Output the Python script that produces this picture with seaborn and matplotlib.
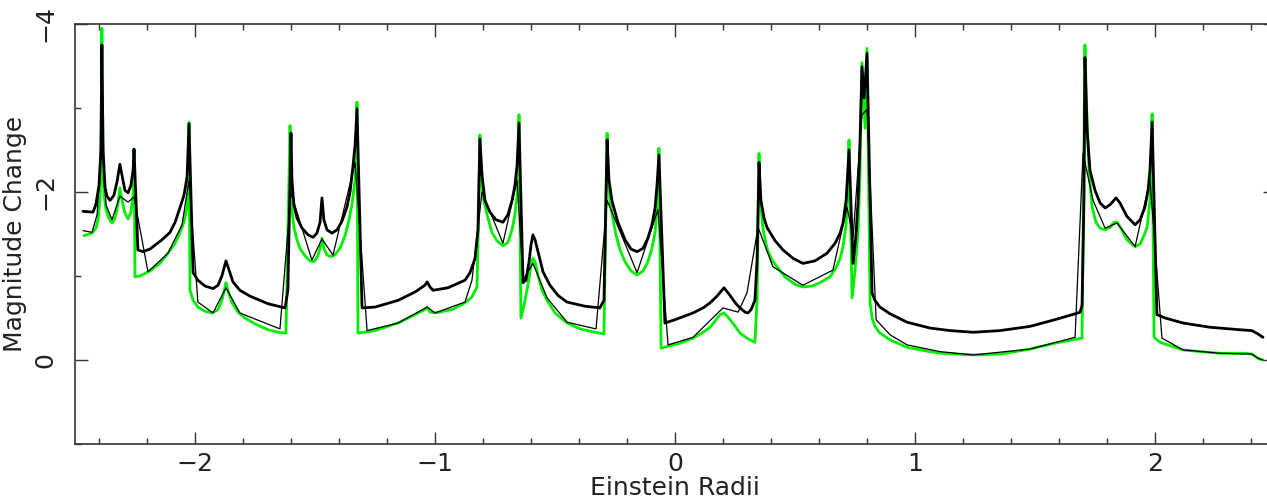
import numpy as np
import pandas as pd
import matplotlib
matplotlib.use("Agg")
import matplotlib.pyplot as plt
import seaborn as sns
from matplotlib.ticker import MultipleLocator, FixedLocator

# ---- data (x in Einstein radii, y in magnitudes) ----
green_x = [-2.463, -2.429, -2.413, -2.404, -2.396, -2.392, -2.388, -2.383, -2.379, -2.371,
           -2.358, -2.346, -2.333, -2.321, -2.313, -2.304, -2.292, -2.279, -2.267, -2.258,
           -2.254, -2.250, -2.229, -2.188, -2.146, -2.113, -2.083, -2.063, -2.046, -2.033,
           -2.029, -2.025, -2.021, -2.008, -1.988, -1.958, -1.929, -1.904, -1.888, -1.875,
           -1.871, -1.863, -1.846, -1.821, -1.792, -1.750, -1.696, -1.654, -1.621, -1.604,
           -1.600, -1.596, -1.588, -1.575, -1.563, -1.542, -1.521, -1.504, -1.488, -1.479,
           -1.471, -1.463, -1.450, -1.433, -1.417, -1.396, -1.375, -1.358, -1.346, -1.333,
           -1.325, -1.321, -1.250, -1.154, -1.083, -1.042, -1.033, -1.021, -1.000, -0.929,
           -0.875, -0.846, -0.825, -0.817, -0.813, -0.808, -0.800, -0.783, -0.763, -0.742,
           -0.717, -0.696, -0.679, -0.667, -0.658, -0.654, -0.650, -0.642, -0.629, -0.613,
           -0.600, -0.592, -0.583, -0.571, -0.554, -0.533, -0.500, -0.450, -0.396, -0.333,
           -0.296, -0.283, -0.279, -0.271, -0.263, -0.246, -0.229, -0.208, -0.183, -0.158,
           -0.133, -0.113, -0.096, -0.083, -0.075, -0.071, -0.067, -0.058, -0.021, 0.021,
           0.075, 0.117, 0.146, 0.171, 0.188, 0.204, 0.221, 0.246, 0.271, 0.300,
           0.333, 0.342, 0.350, 0.354, 0.367, 0.383, 0.404, 0.425, 0.458, 0.500,
           0.533, 0.571, 0.604, 0.646, 0.671, 0.688, 0.700, 0.713, 0.721, 0.725,
           0.738, 0.750, 0.763, 0.771, 0.779, 0.792, 0.800, 0.813, 0.821, 0.833,
           0.854, 0.896, 0.967, 1.042, 1.104, 1.242, 1.354, 1.479, 1.583, 1.696,
           1.708, 1.713, 1.717, 1.725, 1.738, 1.754, 1.771, 1.792, 1.813, 1.829,
           1.842, 1.858, 1.883, 1.917, 1.938, 1.954, 1.967, 1.979, 1.983, 1.988,
           1.996, 2.021, 2.063, 2.117, 2.188, 2.271, 2.375, 2.404, 2.429, 2.450]
green_y = [-1.48, -1.51, -1.57, -1.67, -1.90, -2.26, -3.95, -2.26, -1.96, -1.79,
           -1.68, -1.63, -1.69, -1.85, -2.05, -1.90, -1.75, -1.68, -1.76, -1.96,
           -2.51, -0.99, -1.00, -1.06, -1.15, -1.27, -1.39, -1.51, -1.64, -1.82,
           -2.02, -2.83, -0.83, -0.71, -0.63, -0.58, -0.56, -0.60, -0.71, -0.86,
           -0.92, -0.83, -0.68, -0.57, -0.50, -0.43, -0.36, -0.33, -0.32, -2.79,
           -2.14, -1.79, -1.58, -1.43, -1.33, -1.24, -1.18, -1.17, -1.24, -1.33,
           -1.45, -1.33, -1.25, -1.23, -1.25, -1.33, -1.48, -1.67, -1.85, -2.14,
           -3.07, -0.32, -0.35, -0.44, -0.54, -0.60, -0.63, -0.57, -0.56, -0.60,
           -0.68, -0.75, -0.87, -1.90, -2.68, -2.20, -1.94, -1.73, -1.52, -1.42,
           -1.36, -1.40, -1.55, -1.73, -1.96, -2.26, -2.92, -0.50, -0.65, -0.89,
           -1.13, -1.21, -1.17, -1.01, -0.83, -0.71, -0.56, -0.44, -0.37, -0.33,
           -0.31, -2.70, -2.26, -1.90, -1.75, -1.49, -1.31, -1.17, -1.06, -1.01,
           -1.06, -1.17, -1.33, -1.52, -1.79, -2.08, -2.52, -0.14, -0.17, -0.20,
           -0.26, -0.33, -0.39, -0.48, -0.54, -0.56, -0.51, -0.42, -0.32, -0.26,
           -0.21, -0.71, -2.46, -1.96, -1.55, -1.33, -1.19, -1.11, -0.99, -0.90,
           -0.87, -0.88, -0.92, -0.99, -1.10, -1.21, -1.35, -1.61, -2.02, -2.62,
           -0.74, -1.07, -1.55, -2.26, -3.54, -2.76, -3.71, -0.68, -0.50, -0.40,
           -0.32, -0.24, -0.15, -0.11, -0.08, -0.06, -0.07, -0.13, -0.20, -0.26,
           -3.75, -3.21, -2.86, -2.26, -1.82, -1.64, -1.57, -1.55, -1.58, -1.64,
           -1.64, -1.57, -1.43, -1.35, -1.38, -1.48, -1.58, -1.90, -2.26, -2.93,
           -0.27, -0.21, -0.17, -0.12, -0.10, -0.08, -0.08, -0.07, -0.02, 0.00]

thick_x = [-2.467, -2.425, -2.413, -2.400, -2.392, -2.388, -2.383, -2.375, -2.367, -2.354,
           -2.338, -2.325, -2.313, -2.304, -2.292, -2.279, -2.267, -2.258, -2.254, -2.238,
           -2.217, -2.188, -2.138, -2.104, -2.083, -2.063, -2.046, -2.033, -2.025, -2.008,
           -1.988, -1.958, -1.925, -1.904, -1.888, -1.871, -1.858, -1.842, -1.813, -1.771,
           -1.696, -1.625, -1.613, -1.600, -1.596, -1.588, -1.575, -1.554, -1.529, -1.508,
           -1.492, -1.479, -1.471, -1.463, -1.450, -1.429, -1.408, -1.388, -1.367, -1.354,
           -1.342, -1.333, -1.325, -1.304, -1.250, -1.154, -1.083, -1.042, -1.033, -1.021,
           -1.008, -0.946, -0.875, -0.854, -0.833, -0.821, -0.813, -0.804, -0.792, -0.771,
           -0.746, -0.717, -0.696, -0.679, -0.667, -0.658, -0.650, -0.633, -0.621, -0.608,
           -0.600, -0.592, -0.583, -0.571, -0.550, -0.521, -0.488, -0.450, -0.375, -0.313,
           -0.296, -0.283, -0.275, -0.263, -0.238, -0.208, -0.183, -0.158, -0.133, -0.113,
           -0.096, -0.083, -0.075, -0.067, -0.042, 0.000, 0.075, 0.117, 0.146, 0.175,
           0.204, 0.229, 0.254, 0.271, 0.292, 0.304, 0.317, 0.333, 0.342, 0.350,
           0.358, 0.371, 0.383, 0.417, 0.450, 0.492, 0.533, 0.583, 0.633, 0.667,
           0.688, 0.700, 0.713, 0.725, 0.742, 0.754, 0.763, 0.771, 0.779, 0.788,
           0.800, 0.821, 0.833, 0.854, 0.896, 0.967, 1.063, 1.146, 1.242, 1.354,
           1.479, 1.583, 1.667, 1.688, 1.696, 1.704, 1.708, 1.717, 1.729, 1.750,
           1.771, 1.792, 1.813, 1.838, 1.854, 1.883, 1.917, 1.938, 1.958, 1.971,
           1.979, 1.988, 2.008, 2.042, 2.117, 2.229, 2.354, 2.404, 2.429, 2.450]
thick_y = [-1.77, -1.76, -1.85, -2.08, -2.50, -3.75, -2.50, -2.06, -1.95, -1.90,
           -1.96, -2.12, -2.33, -2.20, -2.02, -1.99, -2.08, -2.26, -2.51, -1.31,
           -1.29, -1.32, -1.43, -1.52, -1.64, -1.81, -1.96, -2.18, -2.81, -1.04,
           -0.95, -0.88, -0.85, -0.89, -1.00, -1.18, -1.07, -0.93, -0.83, -0.76,
           -0.67, -0.62, -0.83, -2.70, -2.14, -1.85, -1.69, -1.57, -1.49, -1.46,
           -1.51, -1.64, -1.93, -1.67, -1.55, -1.51, -1.55, -1.65, -1.82, -2.00,
           -2.30, -2.56, -2.99, -0.62, -0.63, -0.71, -0.81, -0.89, -0.93, -0.87,
           -0.83, -0.86, -0.95, -1.04, -1.21, -1.55, -2.63, -2.20, -1.90, -1.76,
           -1.67, -1.64, -1.73, -1.90, -2.08, -2.32, -2.82, -0.92, -0.95, -1.17,
           -1.37, -1.49, -1.43, -1.29, -1.05, -0.89, -0.77, -0.69, -0.64, -0.62,
           -0.71, -2.62, -2.14, -1.90, -1.64, -1.43, -1.32, -1.29, -1.33, -1.45,
           -1.61, -1.81, -2.08, -2.44, -0.44, -0.48, -0.56, -0.62, -0.68, -0.76,
           -0.86, -0.77, -0.67, -0.62, -0.57, -0.56, -0.60, -0.71, -1.19, -2.35,
           -1.90, -1.69, -1.58, -1.42, -1.31, -1.21, -1.15, -1.18, -1.27, -1.39,
           -1.51, -1.63, -1.90, -2.50, -1.15, -1.49, -1.90, -2.62, -3.49, -3.12,
           -3.65, -0.80, -0.71, -0.63, -0.55, -0.45, -0.38, -0.35, -0.33, -0.35,
           -0.40, -0.48, -0.55, -0.57, -0.65, -1.90, -3.60, -2.74, -2.26, -2.02,
           -1.87, -1.81, -1.85, -1.93, -1.87, -1.71, -1.61, -1.67, -1.82, -2.02,
           -2.26, -2.83, -0.54, -0.50, -0.44, -0.39, -0.36, -0.35, -0.31, -0.27]

thin_x = [-2.467, -2.429, -2.408, -2.388, -2.371, -2.346, -2.313, -2.279, -2.254, -2.196,
          -2.113, -2.054, -2.025, -1.988, -1.925, -1.871, -1.813, -1.646, -1.600, -1.513,
          -1.471, -1.425, -1.333, -1.283, -1.154, -1.033, -1.000, -0.875, -0.846, -0.804,
          -0.717, -0.658, -0.633, -0.592, -0.533, -0.450, -0.329, -0.283, -0.158, -0.071,
          -0.029, 0.075, 0.200, 0.263, 0.300, 0.346, 0.408, 0.533, 0.658, 0.717,
          0.742, 0.779, 0.800, 0.838, 0.896, 0.967, 1.104, 1.242, 1.479, 1.667,
          1.700, 1.742, 1.792, 1.842, 1.917, 1.979, 2.029, 2.117, 2.271, 2.404,
          2.429, 2.450]
thin_y = [-1.54, -1.52, -1.73, -2.62, -1.85, -1.67, -1.95, -1.88, -1.94, -1.05,
          -1.27, -1.61, -2.14, -0.69, -0.56, -0.86, -0.56, -0.37, -1.99, -1.19,
          -1.44, -1.25, -2.35, -0.35, -0.44, -0.63, -0.56, -0.69, -0.95, -2.00,
          -1.39, -2.14, -0.95, -1.15, -0.74, -0.45, -0.37, -1.90, -1.04, -1.79,
          -0.18, -0.27, -0.62, -0.57, -0.80, -1.58, -1.11, -0.89, -1.07, -1.82,
          -1.46, -2.92, -2.98, -0.48, -0.30, -0.18, -0.10, -0.06, -0.13, -0.27,
          -2.46, -1.90, -1.57, -1.63, -1.35, -2.14, -0.26, -0.12, -0.08, -0.07,
          -0.02, 0.00]

x_major = [-2, -1, 0, 1, 2]
y_major = [-4, -2, 0]

green_df = pd.DataFrame({"x": green_x, "y": green_y})
thick_df = pd.DataFrame({"x": thick_x, "y": thick_y})
thin_df = pd.DataFrame({"x": thin_x, "y": thin_y})

sns.set_style("ticks")
plt.rcParams["font.family"] = ["DejaVu Sans"]
plt.rcParams["axes.unicode_minus"] = True

W, H = 1267, 498
fig = plt.figure(figsize=(W / 100, H / 100), dpi=100)
ax = fig.add_axes([75 / W, 54 / H, 1200 / W, 420 / H])

sns.lineplot(data=green_df, x="x", y="y", sort=False, estimator=None, ax=ax,
             color="#00ee00", linewidth=2.0)
sns.lineplot(data=thin_df, x="x", y="y", sort=False, estimator=None, ax=ax,
             color="black", linewidth=0.9)
sns.lineplot(data=thick_df, x="x", y="y", sort=False, estimator=None, ax=ax,
             color="black", linewidth=2.0)

ax.set_xlim(-2.5, 2.5)
ax.set_ylim(1, -4)

ax.xaxis.set_major_locator(FixedLocator(x_major))
ax.xaxis.set_minor_locator(MultipleLocator(0.2))
ax.yaxis.set_major_locator(FixedLocator(y_major))
ax.yaxis.set_minor_locator(MultipleLocator(1))
ax.set_xticklabels([f"{v:d}".replace("-", "\u2212") for v in x_major])
ax.set_yticklabels([f"{v:d}".replace("-", "\u2212") for v in y_major])

for s in ax.spines.values():
    s.set_visible(True)
    s.set_color("#333333")
    s.set_linewidth(1.2)

ax.tick_params(which="both", direction="in", top=True, right=True,
               color="#333333", width=1.0)
ax.tick_params(which="major", length=9)
ax.tick_params(which="minor", length=4.5)
ax.tick_params(axis="x", which="major", labelsize=18, pad=6, labelcolor="#222222")
ax.tick_params(axis="y", which="major", labelsize=18, pad=13, labelcolor="#222222")
for lab in ax.get_yticklabels():
    lab.set_rotation(90)
    lab.set_va("center")
    lab.set_ha("right")

ax.set_xlabel("Einstein Radii", fontsize=18, labelpad=0, color="#222222")
ax.set_ylabel("Magnitude Change", fontsize=18, labelpad=4, color="#222222")

fig.savefig("out.png", dpi=100)
